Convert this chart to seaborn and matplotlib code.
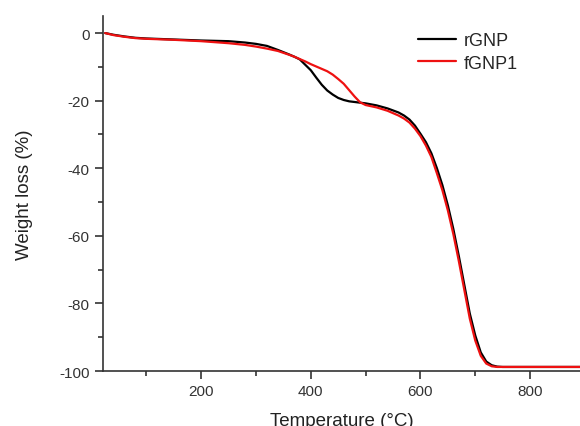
import matplotlib
matplotlib.use("Agg")
import matplotlib.pyplot as plt
import seaborn as sns
import numpy as np
import pandas as pd
from matplotlib.ticker import MultipleLocator

# TGA data
temperature = [25, 40, 60, 80, 100, 150, 200, 250, 280, 300, 320, 340, 360, 370,
               380, 390, 400, 410, 420, 430, 440, 450, 460, 470, 480, 490, 500,
               520, 540, 560, 570, 580, 590, 600, 610, 620, 630, 640, 650, 660,
               670, 680, 690, 700, 710, 720, 730, 740, 750, 800, 850, 900]
rgnp = [0, -0.5, -1.0, -1.4, -1.6, -1.9, -2.2, -2.4, -2.8, -3.2, -3.8, -5.0,
        -6.3, -7.0, -7.8, -9.4, -11.0, -13.2, -15.3, -17.0, -18.2, -19.2,
        -19.8, -20.2, -20.4, -20.6, -20.8, -21.4, -22.3, -23.5, -24.4, -25.6,
        -27.4, -29.8, -32.3, -35.6, -40.0, -45.0, -51.0, -58.0, -66.0, -74.5,
        -83.0, -89.5, -94.5, -97.2, -98.3, -98.7, -98.8, -98.8, -98.8, -98.8]
fgnp1 = [0, -0.6, -1.1, -1.5, -1.7, -2.0, -2.4, -3.0, -3.5, -4.0, -4.6, -5.3,
         -6.4, -7.0, -7.7, -8.4, -9.2, -9.9, -10.6, -11.3, -12.3, -13.6,
         -15.0, -16.9, -18.8, -20.5, -21.3, -22.0, -23.0, -24.4, -25.3, -26.5,
         -28.3, -30.5, -33.3, -36.7, -41.5, -46.5, -52.5, -59.5, -67.5, -76.0,
         -84.5, -91.0, -95.5, -97.8, -98.6, -98.8, -98.8, -98.8, -98.8, -98.8]

df = pd.DataFrame({"T": temperature * 2,
                   "w": rgnp + fgnp1,
                   "sample": ["rGNP"] * len(temperature) + ["fGNP1"] * len(temperature)})

sns.set_style("ticks")
plt.rcParams['font.family'] = ['Liberation Sans', 'DejaVu Sans']
plt.rcParams['axes.unicode_minus'] = False

fig = plt.figure(figsize=(5.8, 4.27), dpi=100)
ax = fig.add_axes([0.1776, 0.1288, 0.8224, 0.831])

sns.lineplot(data=df, x="T", y="w", hue="sample", palette={"rGNP": "black", "fGNP1": "#ee1111"},
             linewidth=1.6, ax=ax, sort=True, solid_joinstyle="round")

ax.set_xlim(21, 891)
ax.set_ylim(-100, 5)
ax.xaxis.set_major_locator(MultipleLocator(200))
ax.xaxis.set_minor_locator(MultipleLocator(100))
ax.yaxis.set_major_locator(MultipleLocator(20))
ax.yaxis.set_minor_locator(MultipleLocator(10))
ax.tick_params(which="major", length=6, width=1.2, color="#333333", labelsize=11, labelcolor="#333333")
ax.tick_params(which="minor", length=3.5, width=1.2, color="#333333")
for s in ["top", "right"]:
    ax.spines[s].set_visible(False)
for s in ["left", "bottom"]:
    ax.spines[s].set_color("#333333")
    ax.spines[s].set_linewidth(1.2)

ax.set_xlabel("Temperature (°C)", fontsize=13.5, color="#222222", labelpad=10)
ax.set_ylabel("Weight loss (%)", fontsize=13.5, color="#222222", labelpad=19)

ax.legend(title=None, frameon=False, fontsize=13, loc="upper left",
          bbox_to_anchor=(0.66, 0.955), borderpad=0, borderaxespad=0,
          handlelength=2.1, labelspacing=0.3, handletextpad=0.45)

fig.savefig("out.png", dpi=100)
